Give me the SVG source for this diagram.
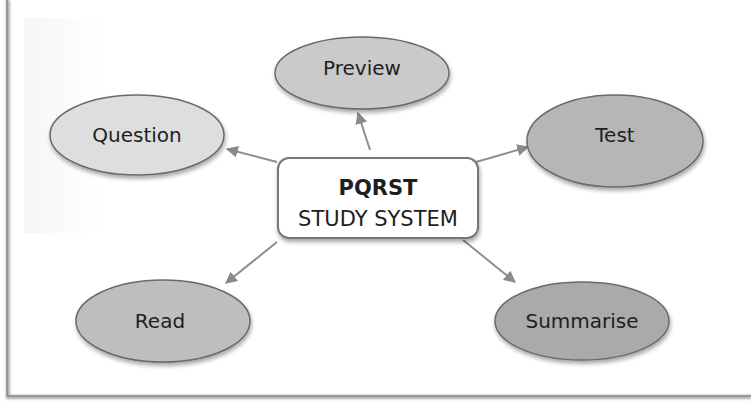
<svg xmlns="http://www.w3.org/2000/svg" width="751" height="406" viewBox="0 0 751 406">
<defs>
<filter id="sh" x="-20%" y="-20%" width="140%" height="150%">
<feGaussianBlur in="SourceAlpha" stdDeviation="2"/>
<feOffset dx="1" dy="3" result="b"/>
<feComponentTransfer><feFuncA type="linear" slope="0.35"/></feComponentTransfer>
<feMerge><feMergeNode/><feMergeNode in="SourceGraphic"/></feMerge>
</filter>
<filter id="fsh" x="-5%" y="-5%" width="110%" height="110%">
<feGaussianBlur stdDeviation="1.2"/>
</filter>
<marker id="ah" viewBox="0 0 10 10" refX="9" refY="5" markerWidth="6" markerHeight="6" orient="auto" markerUnits="strokeWidth">
<path d="M0,0 L10,5 L0,10 z" fill="#8a8a8a"/>
</marker>
<linearGradient id="tl" x1="0" y1="0" x2="1" y2="0">
<stop offset="0" stop-color="#f6f6f6"/>
<stop offset="1" stop-color="#ffffff"/>
</linearGradient>
</defs>
<style>
.el{stroke:#6a6a6a;stroke-width:1.5;filter:url(#sh)}
.lbl{font-family:"DejaVu Sans","Liberation Sans",sans-serif;font-size:20px;fill:#1e1e1e;text-anchor:middle;dominant-baseline:central}
.cn{stroke:#8e8e8e;stroke-width:2;fill:none;marker-end:url(#ah)}
</style>
<rect width="751" height="406" fill="#ffffff"/>
<rect x="24" y="18" width="80" height="215" fill="url(#tl)"/>
<g id="frame">
<path d="M8,0 L8,397 L751,397" fill="none" stroke="#b0b0b0" stroke-width="4" filter="url(#fsh)"/>
<path d="M7,0 L7,396 L751,396" fill="none" stroke="#8c8c8c" stroke-width="1.5"/>
</g>
<g id="connectors">
<line class="cn" x1="370" y1="150" x2="358" y2="113"/>
<line class="cn" x1="277" y1="162" x2="227" y2="149"/>
<line class="cn" x1="476" y1="162" x2="528" y2="147"/>
<line class="cn" x1="277" y1="242" x2="226" y2="283"/>
<line class="cn" x1="463" y1="240" x2="515" y2="282"/>
</g>
<g id="preview">
<ellipse class="el" cx="362" cy="73" rx="87" ry="36" fill="#cacaca"/>
<text class="lbl" x="362" y="68">Preview</text>
</g>
<g id="question">
<ellipse class="el" cx="137" cy="135" rx="87" ry="40" fill="#dedede"/>
<text class="lbl" x="137" y="135">Question</text>
</g>
<g id="test">
<ellipse class="el" cx="615" cy="141" rx="88" ry="46" fill="#b6b6b6"/>
<text class="lbl" x="615" y="135">Test</text>
</g>
<g id="read">
<ellipse class="el" cx="163" cy="321" rx="87" ry="41" fill="#bebebe"/>
<text class="lbl" x="160" y="321">Read</text>
</g>
<g id="summarise">
<ellipse class="el" cx="582" cy="321" rx="87" ry="39" fill="#aaaaaa"/>
<text class="lbl" x="582" y="321">Summarise</text>
</g>
<g id="center">
<rect x="278" y="158" width="200" height="80" rx="11" fill="#ffffff" stroke="#777" stroke-width="2" filter="url(#sh)"/>
<text class="lbl" x="378" y="188" style="font-weight:bold;font-size:21px">PQRST</text>
<text class="lbl" x="378" y="219" style="font-size:21px">STUDY SYSTEM</text>
</g>
</svg>
